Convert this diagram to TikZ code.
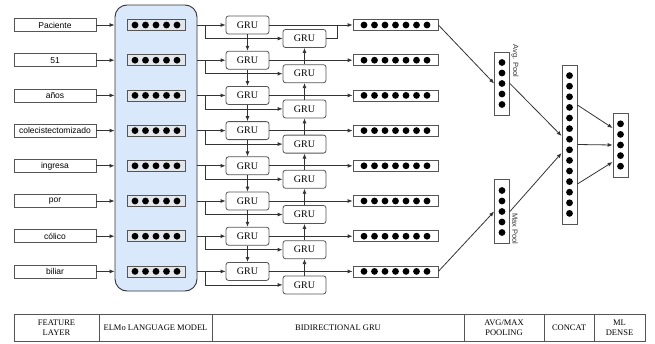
\documentclass[tikz,border=0pt]{standalone}
\usepackage{fontspec}
\setmainfont{Liberation Serif}
\newfontfamily\wordfont{Liberation Sans}
\usepackage{tikz}
\usetikzlibrary{calc,arrows.meta}
\definecolor{elmoBlue}{HTML}{DAE8FC}
\definecolor{lineGrey}{HTML}{333333}
\definecolor{boxGrey}{HTML}{555555}
\definecolor{vecFill}{HTML}{E3E6EB}
\tikzset{
  wordbox/.style={rectangle, draw=boxGrey, fill=white, line width=0.8pt, minimum width=82pt, minimum height=13pt, inner sep=0pt, font=\wordfont\fontsize{8.5}{10}\selectfont},
  elmobox/.style={rectangle, rounded corners=12pt, draw=lineGrey, fill=elmoBlue, line width=0.9pt, minimum width=82pt, minimum height=286pt},
  embbox/.style={rectangle, draw=boxGrey, fill=vecFill, line width=0.8pt, minimum width=58pt, minimum height=11pt, inner sep=0pt},
  grubox/.style={rectangle, rounded corners=2.5pt, draw=boxGrey, fill=white, line width=0.8pt, minimum width=43pt, minimum height=18pt, inner sep=0pt, font=\fontsize{10}{12}\selectfont},
  outbox/.style={rectangle, draw=boxGrey, fill=white, line width=0.8pt, minimum width=85pt, minimum height=11pt, inner sep=0pt},
  colbox/.style={rectangle, draw=boxGrey, fill=white, line width=0.8pt, minimum width=15pt, inner sep=0pt},
  poollabel/.style={font=\wordfont\fontsize{7.5}{9}\selectfont, text=lineGrey, rotate=-90, inner sep=1pt},
  tablecell/.style={rectangle, draw=boxGrey, line width=0.8pt, minimum height=27pt, inner sep=1pt, align=center, font=\fontsize{8.5}{10}\selectfont},
  flowarrow/.style={-{Latex[length=5pt,width=4pt]}, line width=0.8pt, draw=lineGrey},
  flowline/.style={line width=0.8pt, draw=lineGrey},
  unitdot/.style={fill=black},
}

\begin{document}
\begin{tikzpicture}[x=1pt,y=-1pt]
  \useasboundingbox (0,0) rectangle (655,343);

  % ELMo block behind the token embeddings
  \node[elmobox] (elmo) at (156,148) {};

  % one row per token: word, embedding, forward and backward GRU, output
  \foreach \w [count=\i] in {Paciente,51,años,colecistectomizado,ingresa,por,cólico,biliar} {
    \pgfmathsetmacro{\rowy}{25+(\i-1)*35.2}
    \node[wordbox] (w\i) at (55,\rowy) {\w};
    \node[embbox] (e\i) at (156,\rowy) {};
    \node[grubox] (f\i) at (247.5,\rowy) {GRU};
    \node[grubox] (b\i) at (304.5,\rowy+13.5) {GRU};
    \node[outbox] (o\i) at (395.5,\rowy) {};
    \foreach \k in {1,...,5}
      \fill[unitdot] ($(e\i.center)+({(\k-3)*10.5},0)$) circle (3.4);
    \foreach \k in {1,...,7}
      \fill[unitdot] ($(o\i.center)+({(\k-4)*10.5},0)$) circle (3.4);
    \draw[flowarrow] (w\i.east) -- (w\i -| elmo.west);
    \draw[flowarrow] (e\i -| elmo.east) -- (f\i.west);
    \draw[flowarrow] ($(e\i -| elmo.east)+(8,0)$) |- (b\i.west);
    \draw[flowarrow] (f\i.east) -- (o\i.west);
  }

  % recurrent links of both directions
  \foreach \i [evaluate=\i as \j using int(\i+1)] in {1,...,7} {
    \draw[flowarrow] (f\i.south) -- (f\j.north);
    \draw[flowarrow] (b\j.north) -- (b\i.south);
  }
  \coordinate (join) at ($(o1.west)+(-15,0)$);
  \draw[flowline] (b1.east) -| (join);

  % pooling, concatenation and dense layer
  \node[colbox, minimum height=63pt] (avg) at (502,83.5) {};
  \node[colbox, minimum height=64pt] (max) at (502,211.5) {};
  \node[colbox, minimum height=159pt] (cat) at (569.5,144.5) {};
  \node[colbox, minimum height=64pt] (dense) at (620.5,145) {};
  \foreach \k in {1,...,5} {
    \fill[unitdot] ($(avg.center)+(0,{(\k-3)*10.5})$) circle (3.4);
    \fill[unitdot] ($(max.center)+(0,{(\k-3)*10.5})$) circle (3.4);
    \fill[unitdot] ($(dense.center)+(0,{(\k-3)*10.6})$) circle (3.4);
  }
  \foreach \k in {1,...,14}
    \fill[unitdot] ($(cat.center)+(0,{(\k-7.5)*10.6})$) circle (3.4);
  \node[poollabel] (avglbl) at (515,61) {Avg. Pool};
  \node[poollabel] (maxlbl) at (515,229) {Max Pool};

  \draw[flowarrow] (o1.east) -- (avg.west);
  \draw[flowarrow] (o8.east) -- (max.west);
  \draw[flowarrow] (avg.east) -- ($(cat.west)+(0,-8.5)$);
  \draw[flowarrow] (max.east) -- ($(cat.west)+(0,8.5)$);
  \draw[flowarrow] ($(cat.east)+(0,-39.5)$) -- ($(dense.west)+(0,-17)$);
  \draw[flowarrow] (cat.east) -- (dense.west);
  \draw[flowarrow] ($(cat.east)+(0,39.5)$) -- ($(dense.west)+(0,17)$);

  % layer legend
  \node[tablecell, minimum width=85pt] (tfeat) at (56.5,327.5) {FEATURE\\LAYER};
  \node[tablecell, minimum width=113pt] (telmo) at (155.5,327.5) {ELMo LANGUAGE MODEL};
  \node[tablecell, minimum width=252pt] (tgru) at (338,327.5) {BIDIRECTIONAL GRU};
  \node[tablecell, minimum width=80pt] (tpool) at (504,327.5) {AVG/MAX\\POOLING};
  \node[tablecell, minimum width=50pt] (tcat) at (569,327.5) {CONCAT};
  \node[tablecell, minimum width=51pt] (tdense) at (619.5,327.5) {ML\\DENSE};
\end{tikzpicture}
\end{document}
